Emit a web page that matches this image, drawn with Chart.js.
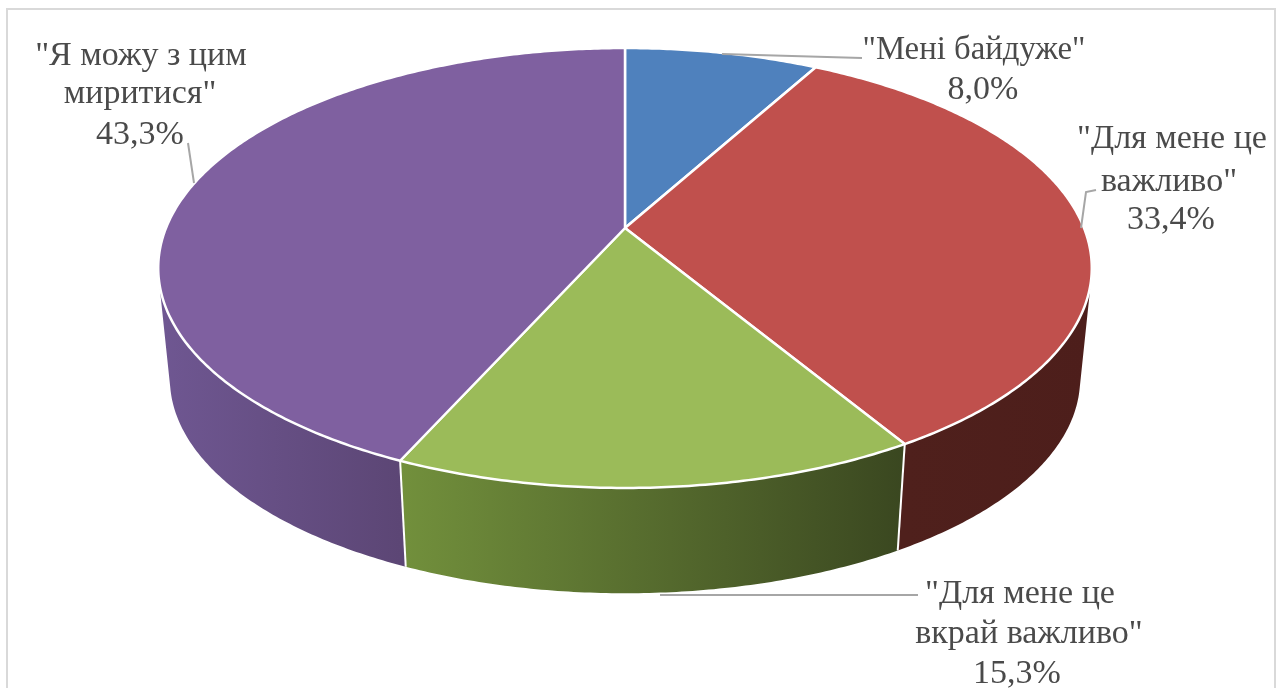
<!DOCTYPE html>
<html lang="uk">
<head>
<meta charset="utf-8">
<title>Кругова діаграма</title>
<style>
  html, body { margin: 0; padding: 0; background: #fff; }
  canvas { display: block; }
</style>
<script src="https://cdn.jsdelivr.net/npm/chart.js@4/dist/chart.umd.min.js"></script>
</head>
<body>
<canvas id="pie" width="1280" height="688"></canvas>
<script>
// Survey answers and their shares, in percent
const categories = ['"Мені байдуже"', '"Для мене це важливо"', '"Для мене це вкрай важливо"', '"Я можу з цим миритися"'];
const shares = [8.0, 33.4, 15.3, 43.3];
const shareLabels = ['8,0%', '33,4%', '15,3%', '43,3%'];
const faceColors = ['#4f81bd', '#c0504d', '#9bbb59', '#7f60a0'];
const wallColorsFrom = ['#2c4a6e', '#4f201c', '#72903c', '#6f5792'];
const wallColorsTo = ['#2c4a6e', '#4d1e1b', '#3a4720', '#5c4675'];

// Tilted-disc projection: maps the unit circle of the pie's plane onto the page
const tilt = { cx: 625, cy: 228, bx: 459, by: 212.7, k: -0.1818 };
// The lower rim is the upper rim shrunk toward a far vanishing point
const rim = { scale: 0.975, vanishY: 4700 };

function project(angle) {
  const u = Math.cos(angle), v = Math.sin(angle), w = 1 + tilt.k * v;
  return { x: tilt.cx + tilt.bx * u / w, y: tilt.cy + tilt.by * v / w };
}
function lower(p) {
  return { x: tilt.cx + (p.x - tilt.cx) * rim.scale, y: rim.vanishY + (p.y - rim.vanishY) * rim.scale };
}
function arcPoints(start, end) {
  const n = Math.max(2, Math.ceil((end - start) / 0.01));
  const pts = [];
  for (let i = 0; i <= n; i++) pts.push(project(start + (end - start) * i / n));
  return pts;
}

// Arcs are painted as projected wedges, using the angles the controller computed
Chart.ArcElement.prototype.draw = function (ctx) {
  const { startAngle, endAngle } = this.getProps(['startAngle', 'endAngle'], true);
  const pts = arcPoints(startAngle, endAngle);
  ctx.save();
  ctx.beginPath();
  ctx.moveTo(tilt.cx, tilt.cy);
  pts.forEach(p => ctx.lineTo(p.x, p.y));
  ctx.closePath();
  ctx.fillStyle = this.options.backgroundColor;
  ctx.fill();
  ctx.lineJoin = 'round';
  ctx.lineWidth = this.options.borderWidth;
  ctx.strokeStyle = this.options.borderColor;
  ctx.stroke();
  ctx.restore();
};

// Side walls of the disc, painted under the top faces
const wallsPlugin = {
  id: 'walls',
  beforeDatasetsDraw(chart) {
    const { ctx } = chart;
    chart.getDatasetMeta(0).data.forEach((arc, i) => {
      const start = Math.max(arc.startAngle, -0.2);
      const end = Math.min(arc.endAngle, Math.PI + 0.2);
      if (end <= start) return;
      const top = arcPoints(start, end);
      const xs = top.map(p => p.x);
      const grad = ctx.createLinearGradient(Math.min(...xs), 0, Math.max(...xs), 0);
      grad.addColorStop(0, wallColorsFrom[i]);
      grad.addColorStop(1, wallColorsTo[i]);
      ctx.save();
      ctx.fillStyle = grad;
      // The wall folds at the silhouette: every strip joins one path with the
      // same winding, so the fold is filled and no seams appear between strips
      ctx.beginPath();
      for (let j = 0; j < top.length - 1; j++) {
        let quad = [top[j], top[j + 1], lower(top[j + 1]), lower(top[j])];
        let area = 0;
        quad.forEach((p, n) => {
          const q = quad[(n + 1) % 4];
          area += p.x * q.y - q.x * p.y;
        });
        if (area < 0) quad = quad.reverse();
        quad.forEach((p, n) => n ? ctx.lineTo(p.x, p.y) : ctx.moveTo(p.x, p.y));
        ctx.closePath();
      }
      ctx.fill('nonzero');
      ctx.restore();
    });
    // Seams between neighbouring walls on the visible side
    chart.getDatasetMeta(0).data.forEach(arc => {
      const a = arc.startAngle;
      if (Math.sin(a) < 0.05) return;
      const p = project(a), q = lower(p);
      ctx.save();
      ctx.beginPath();
      ctx.moveTo(p.x, p.y);
      ctx.lineTo(q.x, q.y);
      ctx.strokeStyle = '#ffffff';
      ctx.lineWidth = 2;
      ctx.stroke();
      ctx.restore();
    });
  }
};

// Outer frame, leader lines and multi-line value captions
const captionLines = [
  ['"Мені байдуже"', shareLabels[0]],
  ['"Для мене це', 'важливо"', shareLabels[1]],
  ['"Для мене це', 'вкрай важливо"', shareLabels[2]],
  ['"Я можу з цим', 'миритися"', shareLabels[3]]
];
const captionBoxes = [
  { x: [974, 983], baselines: [59, 99], fit: [223] },
  { x: [1172, 1169, 1171], baselines: [148, 191, 229], fit: [] },
  { x: [1020, 1029, 1017], baselines: [603, 643, 683], fit: [] },
  { x: [141, 140, 140], baselines: [65, 103, 144], fit: [] }
];
const leaders = [
  [[722, 54], [862, 58]],
  [[1081, 228], [1086, 192], [1096, 190]],
  [[660, 595], [918, 595]],
  [[188, 143], [194, 183]]
];
const captionsPlugin = {
  id: 'captions',
  afterDatasetsDraw(chart) {
    const { ctx } = chart;
    ctx.save();
    ctx.strokeStyle = '#d9d9d9';
    ctx.lineWidth = 2;
    ctx.strokeRect(7, 9, 1268, 700);
    ctx.strokeStyle = '#a6a6a6';
    ctx.lineWidth = 2;
    leaders.forEach(line => {
      ctx.beginPath();
      line.forEach((p, j) => j ? ctx.lineTo(p[0], p[1]) : ctx.moveTo(p[0], p[1]));
      ctx.stroke();
    });
    ctx.fillStyle = '#4a4a4a';
    ctx.font = '34px "Liberation Serif", serif';
    ctx.textAlign = 'center';
    ctx.textBaseline = 'alphabetic';
    captionLines.forEach((lines, i) => {
      const box = captionBoxes[i];
      lines.forEach((text, j) => {
        if (box.fit[j]) ctx.fillText(text, box.x[j], box.baselines[j], box.fit[j]);
        else ctx.fillText(text, box.x[j], box.baselines[j]);
      });
    });
    ctx.restore();
  }
};

new Chart(document.getElementById('pie'), {
  type: 'pie',
  data: {
    labels: categories,
    datasets: [{
      data: shares,
      backgroundColor: faceColors,
      borderColor: '#ffffff',
      borderWidth: 2.5
    }]
  },
  options: {
    responsive: false,
    animation: false,
    plugins: { legend: { display: false }, tooltip: { enabled: false } }
  },
  plugins: [wallsPlugin, captionsPlugin]
});
</script>
</body>
</html>
